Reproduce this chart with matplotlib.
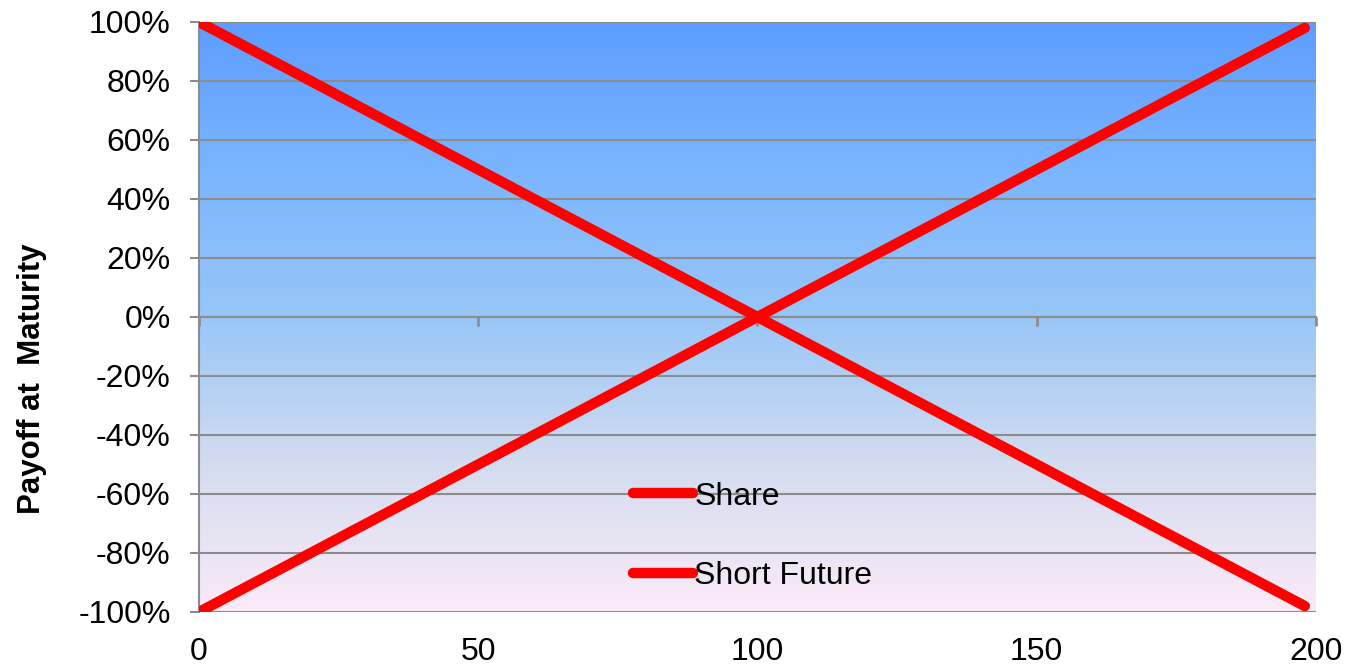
import numpy as np
import matplotlib
matplotlib.use("Agg")
import matplotlib.pyplot as plt
from matplotlib.colors import LinearSegmentedColormap
from matplotlib.ticker import FuncFormatter

plt.rcParams['font.family'] = ['Liberation Sans', 'DejaVu Sans']

# underlying price at maturity and payoff of each position
price = [0, 50, 100, 150, 198]
share = [-1.00, -0.50, 0.00, 0.50, 0.98]
short_future = [1.00, 0.50, 0.00, -0.50, -0.98]

x_ticks = [0, 50, 100, 150, 200]
y_ticks = [-1.0, -0.8, -0.6, -0.4, -0.2, 0.0, 0.2, 0.4, 0.6, 0.8, 1.0]

fig = plt.figure(figsize=(13.5, 6.66), dpi=100)
ax = fig.add_axes([0.1474, 0.0811, 0.8274, 0.8859])

# background gradient, blue at top fading to pale pink
bg = LinearSegmentedColormap.from_list(
    "bg", [(0.0, "#FCEBF8"), (0.25, "#D3DCEF"), (0.5, "#98C6F8"),
           (0.75, "#7AB5FF"), (1.0, "#5C9DFF")])
grad = np.linspace(0, 1, 256).reshape(-1, 1)
ax.imshow(grad, cmap=bg, aspect='auto', origin='lower',
          extent=[0, 200, -1, 1], zorder=0)

grid_col = "#8C8C8C"
for y in y_ticks:
    ax.axhline(y, color=grid_col, lw=1.5, zorder=1)

ax.plot(price, share, color="#FF0000", lw=7.5, solid_capstyle='round',
        label="Share", zorder=3)
ax.plot(price, short_future, color="#FF0000", lw=7.5, solid_capstyle='round',
        label="Short Future", zorder=3)

ax.set_xlim(0, 200)
ax.set_ylim(-1, 1)

# x axis line crosses at 0%, labels sit at the bottom
ax.spines['bottom'].set_position(('data', 0))
ax.spines['bottom'].set_color(grid_col)
ax.spines['bottom'].set_linewidth(1.5)
ax.spines['top'].set_visible(False)
ax.spines['right'].set_visible(False)
ax.spines['left'].set_color(grid_col)
ax.spines['left'].set_linewidth(1.5)
ax.set_xticks(x_ticks)
ax.tick_params(axis='x', direction='out', length=6.5, width=2,
               color=grid_col, labelbottom=False)

sec = ax.secondary_xaxis('bottom')
sec.set_xticks(x_ticks)
sec.spines['bottom'].set_visible(False)
sec.tick_params(length=0, pad=18, labelsize=23)

ax.set_yticks(y_ticks)
ax.yaxis.set_major_formatter(FuncFormatter(lambda v, p: "%d%%" % round(v * 100)))
ax.tick_params(axis='y', direction='out', length=6.5, width=1.5,
               color=grid_col, labelsize=23, pad=14)

ax.set_ylabel("Payoff at  Maturity", fontsize=22.5, fontweight='bold')
ax.yaxis.set_label_coords(-0.136, 0.395)

leg = ax.legend(loc='upper left', bbox_to_anchor=(0.389, 0.221),
                frameon=False, fontsize=23, handlelength=1.85,
                handletextpad=0.05, labelspacing=1.54,
                borderpad=0, borderaxespad=0)

fig.savefig("out.png", dpi=100)
